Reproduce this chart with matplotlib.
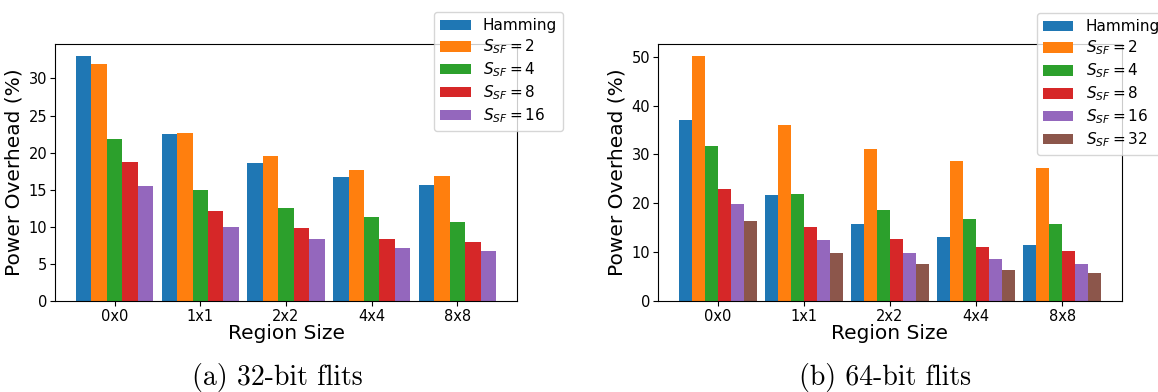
import numpy as np
import matplotlib
matplotlib.use('Agg')
import matplotlib.pyplot as plt

regions = ['0x0', '1x1', '2x2', '4x4', '8x8']

# 32-bit flits
ham_32 = [33.0, 22.5, 18.6, 16.7, 15.7]
sf2_32 = [31.9, 22.7, 19.5, 17.6, 16.8]
sf4_32 = [21.9, 14.9, 12.6, 11.3, 10.6]
sf8_32 = [18.7, 12.1, 9.8, 8.4, 7.9]
sf16_32 = [15.5, 10.0, 8.3, 7.1, 6.7]

# 64-bit flits
ham_64 = [37.0, 21.6, 15.8, 13.0, 11.5]
sf2_64 = [50.1, 36.1, 31.2, 28.6, 27.3]
sf4_64 = [31.8, 22.0, 18.7, 16.7, 15.8]
sf8_64 = [23.0, 15.2, 12.6, 11.1, 10.3]
sf16_64 = [19.9, 12.4, 9.9, 8.5, 7.6]
sf32_64 = [16.3, 9.9, 7.6, 6.4, 5.8]

labels = ['Hamming', r'$S_{SF} = 2$', r'$S_{SF} = 4$', r'$S_{SF} = 8$',
          r'$S_{SF} = 16$', r'$S_{SF} = 32$']
colors = ['#1f77b4', '#ff7f0e', '#2ca02c', '#d62728', '#9467bd', '#8c564b']

W, H = 1158, 392
fig = plt.figure(figsize=(W / 100, H / 100), dpi=100)
ax1 = fig.add_axes([55 / W, 91 / H, 462 / W, 257 / H])
ax2 = fig.add_axes([658 / W, 91 / H, 464 / W, 257 / H])


def draw(ax, series, width):
    x = np.arange(len(regions))
    n = len(series)
    for i, vals in enumerate(series):
        off = (i - (n - 1) / 2) * width
        ax.bar(x + off, vals, width, color=colors[i], label=labels[i])
    ax.set_xticks(x)
    ax.set_xticklabels(regions)
    ax.tick_params(labelsize=10.5, pad=2)
    ax.set_xlabel('Region Size', fontsize=14.5, labelpad=0)
    ax.set_ylabel('Power Overhead (%)', fontsize=14.5, labelpad=4)


draw(ax1, [ham_32, sf2_32, sf4_32, sf8_32, sf16_32], 0.18)
draw(ax2, [ham_64, sf2_64, sf4_64, sf8_64, sf16_64, sf32_64], 0.15)
ax1.set_yticks(range(0, 35, 5))
ax2.set_yticks(range(0, 51, 10))

ax1.legend(loc='upper right', bbox_to_anchor=(1.10, 1.124), fontsize=11,
           labelspacing=0.28, borderaxespad=0)
ax2.legend(loc='upper left', bbox_to_anchor=(0.816, 1.12), fontsize=11,
           labelspacing=0.28, borderaxespad=0)

fig.text(277 / W, 1 - 377 / H, '(a) 32-bit flits', family='cmr10',
         fontsize=20, ha='center', va='center')
fig.text(885 / W, 1 - 377 / H, '(b) 64-bit flits', family='cmr10',
         fontsize=20, ha='center', va='center')

fig.savefig('out.png', dpi=100)
